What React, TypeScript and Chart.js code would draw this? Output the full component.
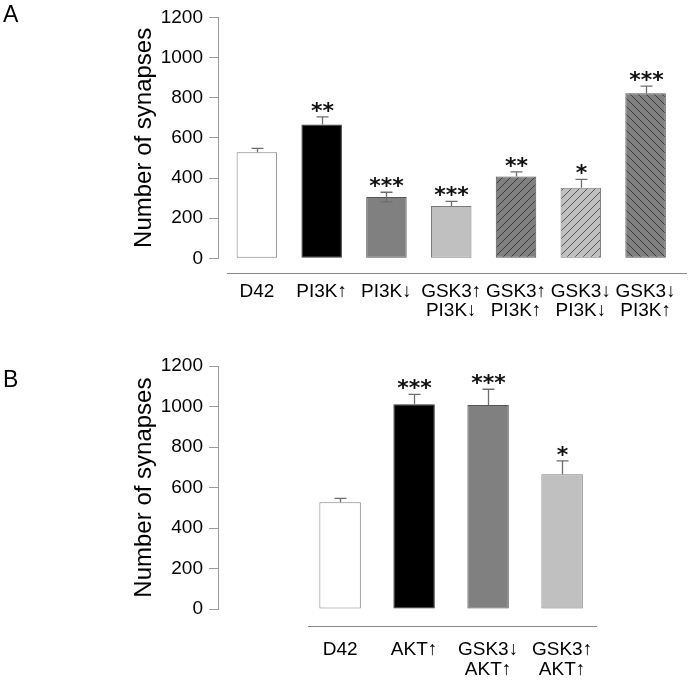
import React, { useEffect, useRef } from "react";
import { Chart, registerables } from "chart.js";

Chart.register(...registerables);

const FONT = '"Liberation Sans", Arial, Helvetica, sans-serif';

// ---------- Panel A data ----------
const categoriesA: string[][] = [
  ["D42"],
  ["PI3K↑"],
  ["PI3K↓"],
  ["GSK3↑", "PI3K↓"],
  ["GSK3↑", "PI3K↑"],
  ["GSK3↓", "PI3K↓"],
  ["GSK3↓", "PI3K↑"],
];
const valuesA = [528, 667, 305, 260, 408, 352, 822];
const errorsA = [20, 37, 24, 24, 23, 41, 36];
const lowerShownA = [false, false, true, false, false, false, false];
const starsA = ["", "**", "***", "***", "**", "*", "***"];

// ---------- Panel B data ----------
const categoriesB: string[][] = [["D42"], ["AKT↑"], ["GSK3↓", "AKT↑"], ["GSK3↑", "AKT↑"]];
const valuesB = [527, 1012, 1008, 666];
const errorsB = [20, 49, 78, 66];
const lowerShownB = [false, false, false, false];
const starsB = ["", "***", "***", "*"];

// ---------- Axis ----------
const yMin = 0;
const yMax = 1200;
const yStep = 200;
const yTitle = "Number of synapses";

function makeHatch(bg: string, line: string, dir: 1 | -1): CanvasPattern {
  const n = 8;
  const c = document.createElement("canvas");
  c.width = n;
  c.height = n;
  const g = c.getContext("2d")!;
  g.fillStyle = bg;
  g.fillRect(0, 0, n, n);
  g.strokeStyle = line;
  g.lineWidth = 1;
  g.beginPath();
  if (dir === 1) {
    g.moveTo(-1, n + 1);
    g.lineTo(n + 1, -1);
    g.moveTo(-1, 1);
    g.lineTo(1, -1);
    g.moveTo(n - 1, n + 1);
    g.lineTo(n + 1, n - 1);
  } else {
    g.moveTo(-1, -1);
    g.lineTo(n + 1, n + 1);
    g.moveTo(n - 1, -1);
    g.lineTo(n + 1, 1);
    g.moveTo(-1, n - 1);
    g.lineTo(1, n + 1);
  }
  g.stroke();
  return g.createPattern(c, "repeat")!;
}

type PanelProps = {
  top: number;
  letter: string;
  letterTop: number;
  categories: string[][];
  values: number[];
  errors: number[];
  lowerShown: boolean[];
  stars: string[];
  fills: () => (string | CanvasPattern)[];
  borders: string[];
  xMin: number;
  xMax: number;
  barPct: number;
  padTop: number;
  xAxisHeight: number;
  tickPad: number;
  lineHeight: number;
  axisLine: { dy: number; x0: number; x1: number };
};

function Panel(p: PanelProps) {
  const ref = useRef<HTMLCanvasElement | null>(null);
  useEffect(() => {
    if (!ref.current) return;
    const overlay = {
      id: "overlay",
      afterDatasetsDraw(chart: any) {
        const ctx: CanvasRenderingContext2D = chart.ctx;
        const meta = chart.getDatasetMeta(0);
        const ys = chart.scales.y;
        const area = chart.chartArea;
        ctx.save();
        // detached x-axis line
        ctx.strokeStyle = "#8a8a8a";
        ctx.lineWidth = 1;
        const ly = Math.round(area.bottom + p.axisLine.dy) + 0.5;
        ctx.beginPath();
        ctx.moveTo(p.axisLine.x0, ly);
        ctx.lineTo(p.axisLine.x1, ly);
        ctx.stroke();
        p.values.forEach((v, i) => {
          const el = meta.data[i];
          if (!el) return;
          const x = Math.round(el.x) + 0.5;
          const yTop = ys.getPixelForValue(v + p.errors[i]);
          const yBot = p.lowerShown[i] ? ys.getPixelForValue(v - p.errors[i]) : ys.getPixelForValue(v);
          ctx.strokeStyle = "#6e6e6e";
          ctx.lineWidth = 1.3;
          ctx.beginPath();
          ctx.moveTo(x, yBot);
          ctx.lineTo(x, yTop);
          ctx.moveTo(x - 6, yTop);
          ctx.lineTo(x + 6, yTop);
          if (p.lowerShown[i]) {
            ctx.moveTo(x - 6, yBot);
            ctx.lineTo(x + 6, yBot);
          }
          ctx.stroke();
          if (p.stars[i]) {
            ctx.fillStyle = "#111";
            ctx.font = 'bold 22px "DejaVu Sans"';
            ctx.textAlign = "center";
            ctx.textBaseline = "alphabetic";
            ctx.fillText(p.stars[i], x, yTop + 1);
          }
        });
        ctx.restore();
      },
    };
    const chart = new Chart(ref.current, {
      type: "bar",
      data: {
        datasets: [
          {
            data: p.values.map((v, i) => ({ x: i, y: v })),
            backgroundColor: p.fills(),
            borderColor: p.borders,
            borderWidth: 1,
            borderSkipped: false,
            barPercentage: p.barPct,
            categoryPercentage: 1,
          } as any,
        ],
      },
      options: {
        responsive: false,
        animation: false,
        events: [],
        layout: { padding: { top: p.padTop, left: 130, right: 0, bottom: 0 } },
        plugins: {
          legend: { display: false },
          tooltip: { enabled: false },
          title: { display: false },
        },
        scales: {
          x: {
            type: "linear",
            offset: false,
            min: p.xMin,
            max: p.xMax,
            afterBuildTicks: (s: any) => {
              s.ticks = p.categories.map((_, i) => ({ value: i }));
            },
            afterFit: (s: any) => {
              s.height = p.xAxisHeight;
              s.paddingLeft = 0;
              s.paddingRight = 0;
            },
            grid: { display: false, drawTicks: false, offset: false },
            border: { display: false },
            ticks: {
              autoSkip: false,
              maxRotation: 0,
              minRotation: 0,
              padding: p.tickPad,
              color: "#000",
              font: { family: FONT, size: 19, lineHeight: p.lineHeight },
              callback: (v: any) => p.categories[Math.round(Number(v))] ?? "",
            },
          },
          y: {
            type: "linear",
            min: yMin,
            max: yMax,
            afterFit: (s: any) => {
              s.width = 88;
            },
            border: { display: true, color: "#9a9a9a", width: 1 },
            grid: { display: true, drawOnChartArea: false, drawTicks: true, tickLength: 9, color: "#9a9a9a" },
            ticks: {
              stepSize: yStep,
              padding: 6,
              color: "#000",
              font: { family: FONT, size: 19 },
              callback: (v: any) => String(v),
            },
            title: {
              display: true,
              text: yTitle,
              color: "#000",
              font: { family: FONT, size: 24 },
              padding: 0,
            },
          },
        },
      } as any,
      plugins: [overlay],
    });
    return () => chart.destroy();
  }, []);
  return (
    <div style={{ position: "absolute", left: 0, top: p.top, width: 689, height: 342 }}>
      <canvas ref={ref} width={689} height={342} style={{ display: "block", width: 689, height: 342 }} />
      <div
        style={{
          position: "absolute",
          left: 3,
          top: p.letterTop - p.top,
          fontFamily: FONT,
          fontSize: 23,
          lineHeight: "23px",
          color: "#000",
        }}
      >
        {p.letter}
      </div>
    </div>
  );
}

export default function App() {
  const dark = "#808080";
  const light = "#c0c0c0";
  return (
    <div style={{ position: "absolute", left: 0, top: 0, width: 689, height: 684, background: "#fff" }}>
      <Panel
        top={0}
        letter="A"
        letterTop={3}
        categories={categoriesA}
        values={valuesA}
        errors={errorsA}
        lowerShown={lowerShownA}
        stars={starsA}
        fills={() => [
          "#ffffff",
          "#000000",
          dark,
          light,
          makeHatch(dark, "#3c3c3c", 1),
          makeHatch(light, "#555555", 1),
          makeHatch(dark, "#3c3c3c", -1),
        ]}
        borders={["#808080", "#333333", "#555555", "#7a7a7a", "#555555", "#7a7a7a", "#555555"]}
        xMin={-0.6}
        xMax={6.67}
        barPct={0.625}
        padTop={17.3}
        xAxisHeight={83.7}
        tickPad={24.6}
        lineHeight={0.98}
        axisLine={{ dy: 14.4, x0: 227, x1: 687 }}
      />
      <Panel
        top={342}
        letter="B"
        letterTop={368}
        categories={categoriesB}
        values={valuesB}
        errors={errorsB}
        lowerShown={lowerShownB}
        stars={starsB}
        fills={() => ["#ffffff", "#000000", dark, light]}
        borders={["#808080", "#333333", "#555555", "#7a7a7a"]}
        xMin={-1.65}
        xMax={4.715}
        barPct={0.56}
        padTop={24.2}
        xAxisHeight={75}
        tickPad={31.2}
        lineHeight={1.05}
        axisLine={{ dy: 17, x0: 308, x1: 597 }}
      />
    </div>
  );
}
